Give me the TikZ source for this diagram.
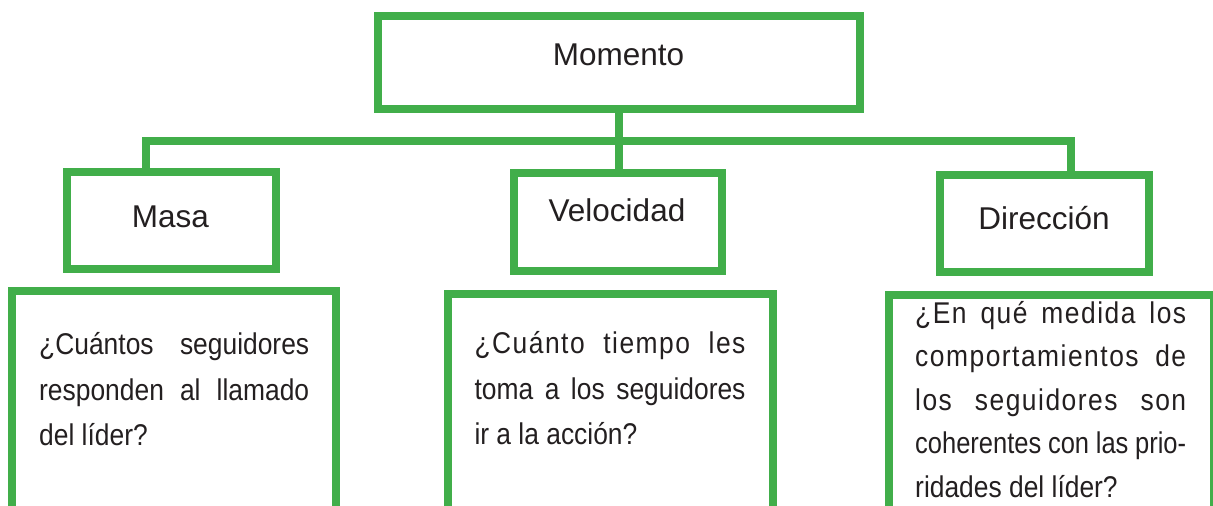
\documentclass[tikz,border=0pt]{standalone}
\usepackage{fontspec}
\setmainfont{Liberation Sans}
\newfontfamily\bodyfont[FakeStretch=0.88]{Liberation Sans}
\newfontfamily\narrowfont[FakeStretch=0.85]{Liberation Sans}
\newfontfamily\spacedfont[FakeStretch=0.88,LetterSpace=5]{Liberation Sans}
\definecolor{grn}{RGB}{65,174,74}
\definecolor{ink}{RGB}{35,31,32}
\begin{document}
\begin{tikzpicture}[x=1pt,y=-1pt,
  box/.style={draw=grn, line width=8pt, rectangle, inner sep=0pt, line join=miter},
  conn/.style={draw=grn, line width=8pt, line join=miter},
  lbl/.style={font=\fontsize{31.5}{38}\selectfont, text=ink, inner sep=0pt, anchor=base},
  body/.style={font=\bodyfont\fontsize{30}{45.7}\selectfont, text=ink, inner sep=0pt, anchor=base west},
  bodytight/.style={body, font=\bodyfont\fontsize{30}{43.5}\selectfont}]
\useasboundingbox (0,0) rectangle (1213,506);
\clip (0,0) rectangle (1213,506);
% top level boxes
\node[box, minimum width=482.6pt, minimum height=93pt] (momento) at (619,62.8) {};
\node[box, minimum width=209pt, minimum height=97.6pt] (masa) at (171,220.5) {};
\node[box, minimum width=208pt, minimum height=97.9pt] (velocidad) at (618,222.3) {};
\node[box, minimum width=209pt, minimum height=97pt] (direccion) at (1044.5,223.5) {};
% lower boxes (running off the bottom edge)
\node[box, minimum width=324.1pt, minimum height=269pt] (q1) at (174.25,425.5) {};
\node[box, minimum width=325pt, minimum height=266pt] (q2) at (610.4,427) {};
\node[box, minimum width=325pt, minimum height=265.5pt] (q3) at (1051.5,427.25) {};
% connectors
\coordinate (bar) at (619,140.5);
\draw[conn] (momento.south) -- (momento.south |- velocidad.north);
\draw[conn] ([xshift=-25pt]masa.north) |- (bar) -| ([xshift=26.5pt]direccion.north);
% labels
\node[lbl] (tmomento) at (618.5,65.7) {Momento};
\node[lbl] (tmasa) at (170.5,227.7) {Masa};
\node[lbl] (tvelocidad) at (617,221.7) {Velocidad};
\node[lbl] (tdireccion) at (1044,229.3) {Dirección};
% questions
\node[body] (t1) at (39,354.3) {\parbox[t]{270pt}{%
  \makebox[\linewidth][s]{¿Cuántos seguidores}\\
  \makebox[\linewidth][s]{responden al llamado}\\
  del líder?}};
\node[body] (t2) at (474.3,353.3) {\parbox[t]{271pt}{%
  \makebox[\linewidth][s]{\spacedfont ¿Cuánto tiempo les}\\
  \makebox[\linewidth][s]{toma a los seguidores}\\
  ir a la acción?}};
\node[bodytight] (t3) at (915,323.3) {\parbox[t]{271pt}{%
  \makebox[\linewidth][s]{\spacedfont ¿En qué medida los}\\
  \makebox[\linewidth][s]{\spacedfont comportamientos de}\\
  \makebox[\linewidth][s]{\spacedfont los seguidores son}\\
  \makebox[\linewidth][s]{\narrowfont coherentes con las prio-}\\
  ridades del líder?}};
\end{tikzpicture}
\end{document}
